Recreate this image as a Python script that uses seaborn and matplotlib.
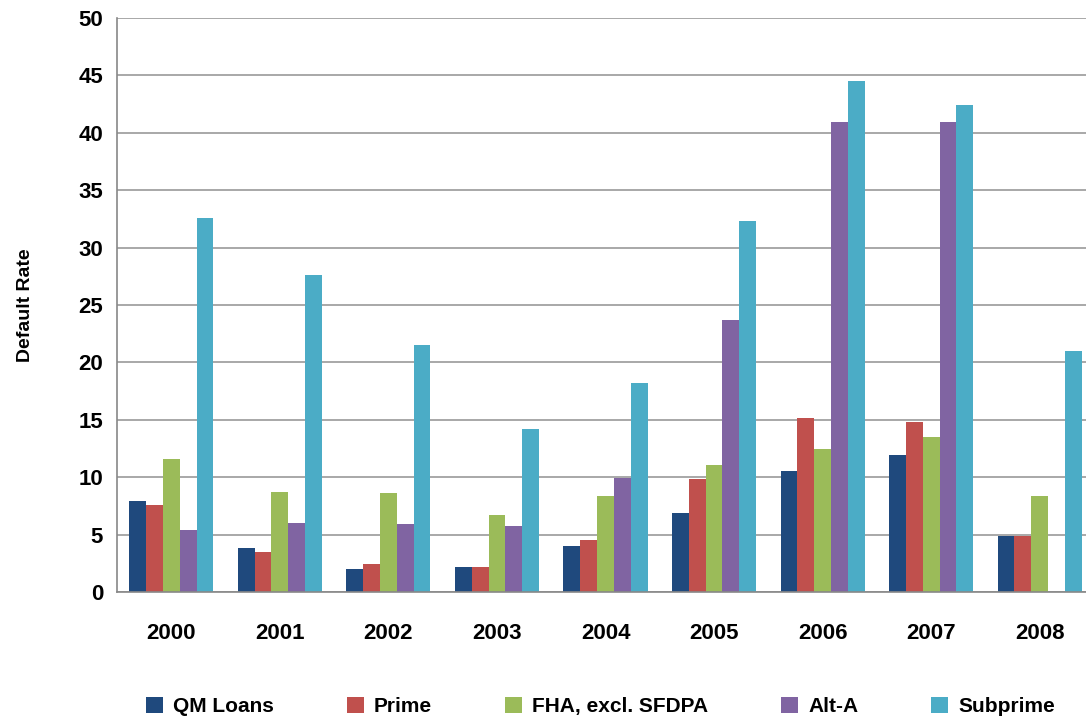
import numpy as np
import pandas as pd
import matplotlib
matplotlib.use("Agg")
import matplotlib.pyplot as plt
import seaborn as sns

years = ["2000", "2001", "2002", "2003", "2004", "2005", "2006", "2007", "2008"]
series = ["QM Loans", "Prime", "FHA, excl. SFDPA", "Alt-A", "Subprime"]
qm_loans = [7.95, 3.85, 2.0, 2.2, 4.0, 6.9, 10.5, 11.95, 4.9]
prime = [7.6, 3.5, 2.4, 2.2, 4.55, 9.8, 15.2, 14.85, 4.9]
fha = [11.6, 8.75, 8.65, 6.7, 8.4, 11.1, 12.5, 13.5, 8.4]
alt_a = [5.4, 6.05, 5.9, 5.75, 9.95, 23.65, 40.9, 40.9, np.nan]
subprime = [32.6, 27.6, 21.5, 14.2, 18.2, 32.3, 44.5, 42.4, 20.95]
colors = ["#1F497D", "#C0504D", "#9BBB59", "#8064A2", "#4BACC6"]

df = pd.DataFrame({
    "Year": years * 5,
    "Series": np.repeat(series, len(years)),
    "Rate": qm_loans + prime + fha + alt_a + subprime,
})

sns.set_style("white")
plt.rcParams["font.family"] = ["Liberation Sans", "DejaVu Sans"]
plt.rcParams["font.weight"] = "bold"
plt.rcParams["text.color"] = "black"
plt.rcParams["axes.labelcolor"] = "black"
plt.rcParams["xtick.labelcolor"] = "black"
plt.rcParams["ytick.labelcolor"] = "black"

fig = plt.figure(figsize=(10.86, 7.19), dpi=100)
ax = fig.add_axes([117 / 1086, 1 - 592 / 719, 977 / 1086, 574 / 719])

sns.barplot(data=df, x="Year", y="Rate", hue="Series", palette=colors,
            width=0.775, gap=0, saturation=1, linewidth=0, ax=ax, legend=True)

ax.set_ylim(0, 50)
ax.set_yticks(np.arange(0, 51, 5))
ax.set_xlim(-0.5, len(years) - 0.5)
ax.yaxis.grid(True, color="#999999", linewidth=1.2)
ax.set_axisbelow(True)
for side in ["top", "right"]:
    ax.spines[side].set_visible(False)
for side in ["left", "bottom"]:
    ax.spines[side].set_color("#888888")
    ax.spines[side].set_linewidth(1.2)

ax.set_xticks(np.arange(-0.5, len(years), 1), minor=True)
ax.tick_params(axis="x", which="major", length=0, pad=22, labelsize=16, labelcolor="black")
ax.tick_params(axis="x", which="minor", length=7, color="#888888", width=1.2)
ax.tick_params(axis="y", length=6, color="#888888", width=1.2, pad=4, labelsize=16,
               labelcolor="black")
for lbl in ax.get_xticklabels() + ax.get_yticklabels():
    lbl.set_fontweight("bold")

ax.set_xlabel("")
ax.set_ylabel("Default Rate", fontsize=14, fontweight="bold", labelpad=32, color="black")

leg = ax.legend(loc="center", bbox_to_anchor=(0.495, -0.2), ncol=5, frameon=False,
                handlelength=0.8, handleheight=0.8, handletextpad=0.5,
                columnspacing=3.5, prop={"weight": "bold", "size": 15})
for t in leg.get_texts():
    t.set_color("black")

fig.savefig("out.png", dpi=100)
